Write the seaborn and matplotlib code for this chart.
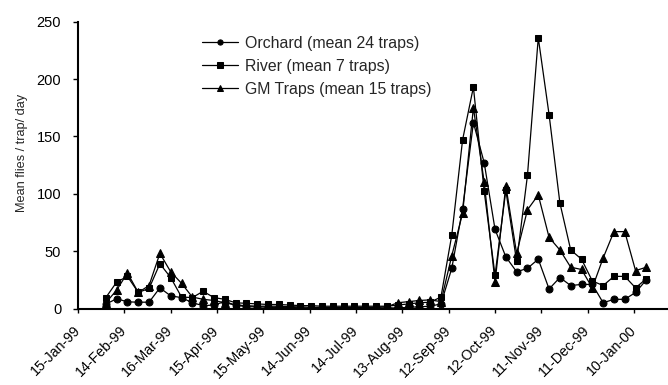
import numpy as np
import pandas as pd
import matplotlib
matplotlib.use("Agg")
import matplotlib.pyplot as plt
import matplotlib.dates as mdates
import seaborn as sns

# ---- data ----
start_date = "1999-02-02"
n_weeks = 51
orchard = [3.8, 8.5, 5.8, 5.5, 5.5, 18, 11, 9.5, 5, 2.5, 3, 6, 3, 1.5, 1.5, 1, 1, 1,
           0.5, 0.5, 0.5, 0.5, 0.5, 0.5, 0.5, 0.5, 0.5, 0.5, 1, 1.5, 2, 4, 35, 87, 162,
           127, 69, 45, 32, 35, 43, 17, 27, 20, 21, 21, 5, 8, 8, 14, 25]
river = [9.5, 23, 28, 14, 17.5, 39, 27, 10, 9.5, 15, 9.5, 8, 5, 4.5, 4, 3.5, 3.5, 3,
         2.5, 2.5, 2, 2, 2, 2, 2, 2, 2, 3, 4, 5, 5.5, 10, 64, 147, 193,
         102, 29, 103, 41, 116, 236, 169, 92, 51, 43, 24, 20, 28, 28, 18, 26]
gm = [5, 16, 31, 14, 20, 48, 32, 22, 10, 8, 7, 5, 3, 2.5, 2, 2, 2, 1.5,
      1.5, 1, 1, 1, 1, 1, 1, 1, 1.5, 5, 6, 7, 7.5, 6, 46, 83, 175,
      110, 23, 107, 48, 86, 99, 62, 51, 36, 34, 18, 44, 67, 67, 33, 36]
series_names = ["Orchard (mean 24 traps)", "River (mean 7 traps)", "GM Traps (mean 15 traps)"]
series_markers = ["o", "s", "^"]
tick_labels = ["15-Jan-99", "14-Feb-99", "16-Mar-99", "15-Apr-99", "15-May-99", "14-Jun-99",
               "14-Jul-99", "13-Aug-99", "12-Sep-99", "12-Oct-99", "11-Nov-99", "11-Dec-99",
               "10-Jan-00"]

dates = pd.date_range(start_date, periods=n_weeks, freq="7D")
df = pd.DataFrame({"date": dates, series_names[0]: orchard,
                   series_names[1]: river, series_names[2]: gm})
long = df.melt(id_vars="date", var_name="series", value_name="value")

sns.set_style("ticks")
plt.rcParams["font.family"] = ["Liberation Sans", "DejaVu Sans"]

fig = plt.figure(figsize=(6.68, 3.85), dpi=100)
ax = fig.add_axes([0.1168, 0.1987, 0.8832, 0.745])

for name, mk in zip(series_names, series_markers):
    sub = long[long["series"] == name]
    ms = 5.5 if mk == "^" else 5
    sns.lineplot(data=sub, x="date", y="value", ax=ax, color="black", linewidth=0.9,
                 marker=mk, markersize=ms, markeredgecolor="black",
                 markerfacecolor="black", label=name)

tick_dates = pd.to_datetime(tick_labels, format="%d-%b-%y")
ax.set_xticks(tick_dates)
ax.set_xticklabels(tick_labels, rotation=45, ha="right", va="center",
                   rotation_mode="anchor", fontsize=10.2)
ax.set_xlim(pd.Timestamp("1999-01-15"), pd.Timestamp("2000-02-01"))
ax.set_ylim(0, 250)
ax.set_yticks([0, 50, 100, 150, 200, 250])
ax.tick_params(axis="y", labelsize=10.5, length=3.6, width=1, direction="out",
               colors="black", pad=8.5)
ax.tick_params(axis="x", length=3, width=1, direction="out", colors="black", pad=11)
ax.set_xlabel("")
ax.set_ylabel("Mean flies / trap/ day", fontsize=9.2)
ax.yaxis.set_label_coords(-0.0847, 0.544)
for s in ["top", "right"]:
    ax.spines[s].set_visible(False)
for s in ["left", "bottom"]:
    ax.spines[s].set_linewidth(1.5)
    ax.spines[s].set_color("black")

leg = ax.legend(loc="upper left", bbox_to_anchor=(0.199, 0.972), frameon=False,
                borderaxespad=0, fontsize=11.4, handlelength=2.3, labelspacing=0.5,
                handletextpad=0.45, markerscale=0.75)

fig.savefig("out.png", dpi=100)
